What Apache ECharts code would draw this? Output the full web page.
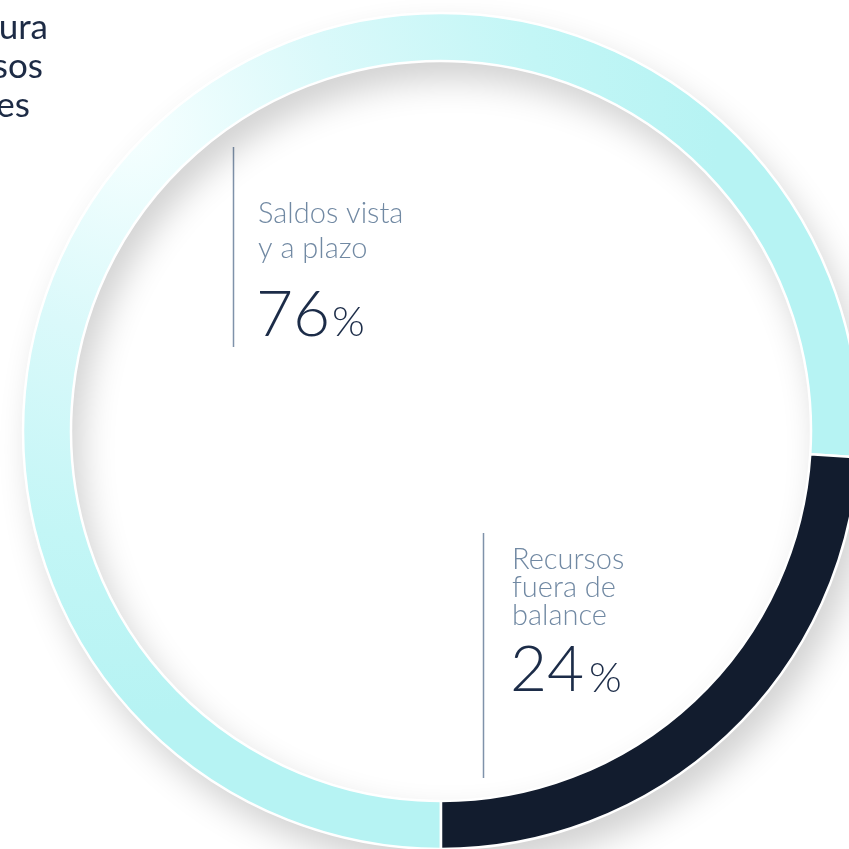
<!DOCTYPE html>
<html>
<head>
<meta charset="utf-8">
<script src="https://cdn.jsdelivr.net/npm/echarts@6/dist/echarts.min.js"></script>
<style>
html,body{margin:0;padding:0;background:#fff;}
#chart{width:849px;height:849px;}
</style>
</head>
<body>
<div id="chart"></div>
<script>
// Data
const categories = ['Saldos vista y a plazo', 'Recursos fuera de balance'];
const labelLines = [['Saldos vista', 'y a plazo'], ['Recursos', 'fuera de', 'balance']];
const values = [76, 24];
const titleLines = ['Estructura', 'de recursos', 'de clientes'];

const chart = echarts.init(document.getElementById('chart'), null, {renderer: 'canvas'});

const lightGrad = {
  type: 'radial', x: 0.13, y: 0.14, r: 0.7,
  colorStops: [
    {offset: 0, color: '#f6ffff'},
    {offset: 0.35, color: '#daf9fa'},
    {offset: 0.7, color: '#c3f6f6'},
    {offset: 1, color: '#b6f3f3'}
  ]
};
const sliceColors = [lightGrad, '#121c2e'];

const FONT = 'Lato, "Open Sans", sans-serif';
const labelColor = '#7189a3';
const numColor = '#1c2c48';

function txt(x, y, text, font, fill, align) {
  return {type: 'text', x: x, y: y, silent: true,
    style: {text: text, font: font, fill: fill, align: align || 'left', verticalAlign: 'middle'}};
}

function labelBlock(idx, x, lineX, lineTop, lineBottom, firstMid, lh, numMid, pctX, pctMid) {
  const els = [];
  els.push({type: 'line', shape: {x1: lineX, y1: lineTop, x2: lineX, y2: lineBottom},
    style: {stroke: '#7f92aa', lineWidth: 1.5}, silent: true});
  labelLines[idx].forEach((t, i) => {
    els.push(txt(x, firstMid + i * lh, t, '300 29px ' + FONT, labelColor));
  });
  els.push(txt(x - 2, numMid, String(values[idx]), '300 64px ' + FONT, numColor));
  els.push(txt(pctX, pctMid, '%', '300 42px ' + FONT, numColor));
  return els;
}

const graphics = [];
const titleRight = [48, 43, 30];
titleLines.forEach((t, i) => {
  graphics.push({type: 'text', x: titleRight[i], y: 10 + i * 39, silent: true,
    style: {text: t, font: '400 35px ' + FONT, fill: '#1d2b45', align: 'right', verticalAlign: 'top'}});
});
graphics.push(...labelBlock(0, 258, 233.5, 147, 347, 213.5, 35.5, 315, 332, 322.5));
graphics.push(...labelBlock(1, 512, 483.5, 533, 778, 560, 28, 670.5, 589, 678));

const option = {
  backgroundColor: '#ffffff',
  animation: false,
  series: [
    {
      type: 'pie',
      center: [441, 431],
      radius: [370, 418],
      silent: true,
      z: 1,
      label: {show: false},
      labelLine: {show: false},
      itemStyle: {color: '#ffffff', shadowBlur: 34, shadowColor: 'rgba(0,0,0,0.19)', shadowOffsetX: 10, shadowOffsetY: 18},
      data: [{value: 1, name: 'bg'}]
    },
    {
      type: 'pie',
      center: [441, 431],
      radius: [370, 418],
      startAngle: 270,
      clockwise: true,
      silent: true,
      z: 2,
      label: {show: false},
      labelLine: {show: false},
      itemStyle: {borderColor: '#ffffff', borderWidth: 2.5},
      data: categories.map((c, i) => ({name: c, value: values[i], itemStyle: {color: sliceColors[i]}}))
    }
  ],
  graphic: graphics
};
chart.setOption(option);
</script>
</body>
</html>
